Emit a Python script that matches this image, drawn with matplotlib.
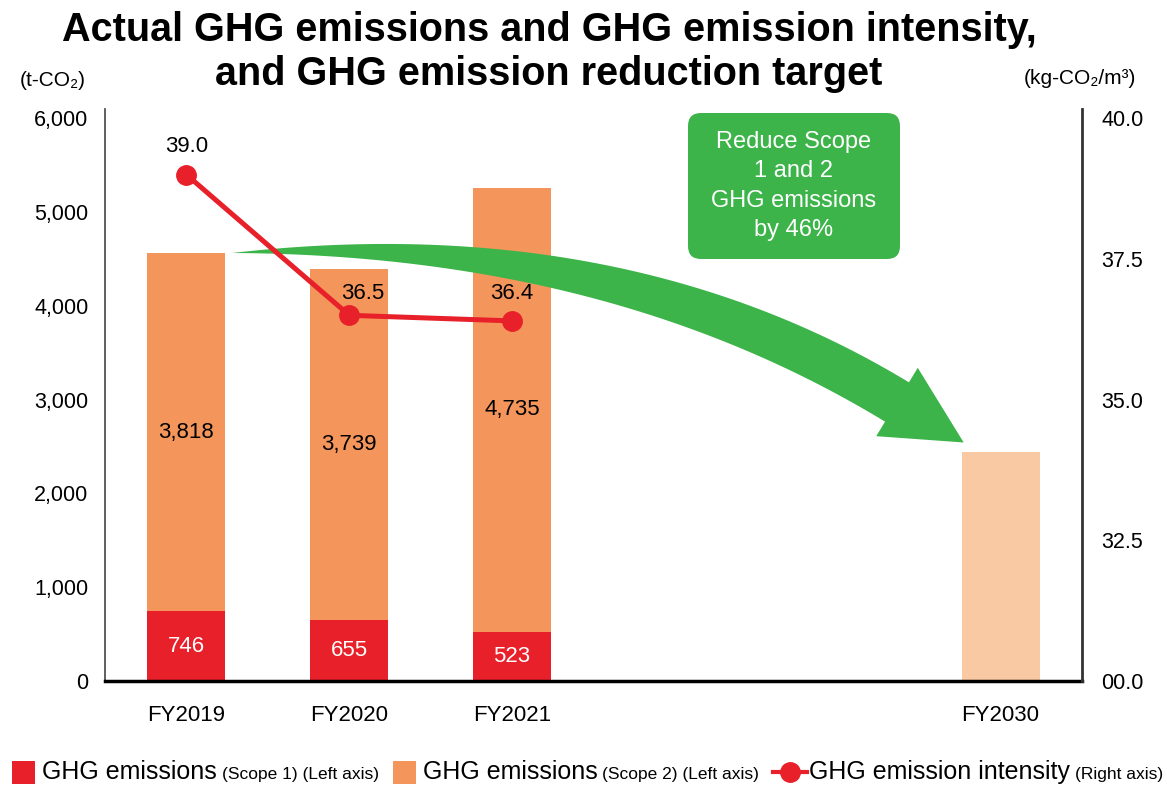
import matplotlib
matplotlib.use("Agg")
import matplotlib.pyplot as plt
import numpy as np
from matplotlib.patches import Rectangle, Polygon, FancyBboxPatch
from matplotlib.lines import Line2D

plt.rcParams['font.family'] = ['Liberation Sans', 'DejaVu Sans']

# ---------------- data ----------------
categories = ["FY2019", "FY2020", "FY2021", "", "", "FY2030"]
actual_years = ["FY2019", "FY2020", "FY2021"]
scope1 = [746, 655, 523]
scope2 = [3818, 3739, 4735]
intensity = [39.0, 36.5, 36.4]
target_year = "FY2030"
target_total = 2440

left_ticks = [0, 1000, 2000, 3000, 4000, 5000, 6000]
right_ticks = [30.0, 32.5, 35.0, 37.5, 40.0]
right_tick_labels = ["00.0", "32.5", "35.0", "37.5", "40.0"]

RED = "#e8202a"
ORANGE = "#f4965b"
PEACH = "#f9c9a3"
GREEN = "#3cb44a"

W, H = 1167, 785
fig = plt.figure(figsize=(W / 100, H / 100), dpi=100)


def px(x, y):
    # pixel position (y down) -> inches for fig.dpi_scale_trans
    return x / 100, (H - y) / 100


ax = fig.add_axes([105 / W, 1 - 681 / H, (1082 - 105) / W, (681 - 109) / H])
ax2 = ax.twinx()

# ---------------- bars ----------------
x_all = np.arange(len(categories))
x_act = [categories.index(y) for y in actual_years]
x_tgt = categories.index(target_year)

b1 = ax.bar(x_act, scope1, width=0.48, color=RED, zorder=2)
b2 = ax.bar(x_act, scope2, bottom=scope1, width=0.48, color=ORANGE, zorder=2)
ax.bar([x_tgt], [target_total], width=0.48, color=PEACH, zorder=2)
ax.bar_label(b1, labels=[f"{v:,}" for v in scope1], label_type='center',
             color='white', fontsize=16)
ax.bar_label(b2, labels=[f"{v:,}" for v in scope2], label_type='center',
             color='black', fontsize=16)

ymax = 6100
ax.set_xlim(-0.5, len(categories) - 0.5)
ax.set_ylim(0, ymax)
ax.set_yticks(left_ticks, [f"{v:,}" for v in left_ticks])
ax.set_xticks(x_all, categories)
ax.tick_params(axis='y', length=0, labelsize=15.5, pad=12)
ax.tick_params(axis='x', length=0, labelsize=16, pad=17)

ax2.set_ylim(30, 30 + ymax / 600)
ax2.set_yticks(right_ticks, right_tick_labels)
ax2.tick_params(axis='y', length=0, labelsize=15.5, pad=14)

for s in ['top', 'right']:
    ax.spines[s].set_visible(False)
for s in ['top', 'left', 'bottom']:
    ax2.spines[s].set_visible(False)
ax.spines['left'].set_linewidth(1.2)
ax.spines['left'].set_color('#444444')
ax.spines['bottom'].set_linewidth(2.5)
ax.spines['bottom'].set_color('black')
ax2.spines['right'].set_linewidth(2)
ax2.spines['right'].set_color('#333333')

# ---------------- curved green arrow ----------------
P0 = np.array([232.0, 253.0])
C = np.array([617.0, 232.0])
P2 = np.array([897.0, 402.0])
t = np.linspace(0, 1, 80)[:, None]
center = (1 - t) ** 2 * P0 + 2 * (1 - t) * t * C + t ** 2 * P2
tang = 2 * (1 - t) * (C - P0) + 2 * t * (P2 - C)
tang = tang / np.linalg.norm(tang, axis=1, keepdims=True)
norm = np.column_stack([-tang[:, 1], tang[:, 0]])
w = 46 * (1 - (1 - t) ** 2)
side_a = center + norm * w / 2
side_b = center - norm * w / 2
t_end, n_end = tang[-1], norm[-1]
head = [P2 - n_end * 40, P2 + t_end * 78, P2 + n_end * 40]
pts = np.vstack([side_b, head, side_a[::-1]])
pts_in = np.array([px(x, y) for x, y in pts])
arrow = Polygon(pts_in, closed=True, transform=fig.dpi_scale_trans,
                facecolor=GREEN, edgecolor='none', zorder=2.5, clip_on=False)
ax.add_patch(arrow)

# ---------------- intensity line ----------------
ax2.plot(x_act, intensity, color=RED, lw=3.6, marker='o', ms=14, zorder=3)
label_offsets = [(0, 20), (10, 16), (0, 19.5)]
for xi, v, off in zip(x_act, intensity, label_offsets):
    ax2.annotate(f"{v:.1f}", (xi, v), xytext=off, textcoords='offset points',
                 ha='center', va='center', fontsize=16)

# ---------------- target box ----------------
box = FancyBboxPatch(px(688, 259), 2.12, 1.46,
                     boxstyle="round,pad=0,rounding_size=0.13",
                     transform=fig.dpi_scale_trans, facecolor=GREEN,
                     edgecolor='none', zorder=5)
fig.add_artist(box)
fig.text(794 / W, 1 - 186 / H, "Reduce Scope\n1 and 2\nGHG emissions\nby 46%",
         ha='center', va='center', color='white', fontsize=17,
         linespacing=1.42, zorder=6)

# ---------------- titles / units ----------------
fig.text(549 / W, 1 - 30 / H, "Actual GHG emissions and GHG emission intensity,",
         ha='center', va='center', fontsize=28.5, fontweight='bold')
fig.text(549 / W, 1 - 74 / H, "and GHG emission reduction target",
         ha='center', va='center', fontsize=28.5, fontweight='bold')
fig.text(53 / W, 1 - 80 / H, "(t-CO₂)", ha='center', va='center', fontsize=15)
fig.text(1080 / W, 1 - 78 / H, "(kg-CO₂/m³)", ha='center', va='center', fontsize=15)

# ---------------- legend (mixed font sizes) ----------------
renderer = fig.canvas.get_renderer()
base_y = 1 - 779 / H
legend_items = [
    ("box", RED, "GHG emissions", "(Scope 1) (Left axis)"),
    ("box", ORANGE, "GHG emissions", "(Scope 2) (Left axis)"),
    ("line", RED, "GHG emission intensity", "(Right axis)"),
]
cur = 12
for kind, col, main, note in legend_items:
    if kind == "box":
        fig.add_artist(Rectangle(px(cur, 784), 0.23, 0.23, transform=fig.dpi_scale_trans,
                                 facecolor=col, edgecolor='none'))
        cur += 30
    else:
        yl = (H - 772) / 100
        fig.add_artist(Line2D([cur / 100, (cur + 34) / 100], [yl, yl], color=col, lw=3,
                              transform=fig.dpi_scale_trans))
        fig.add_artist(Line2D([(cur + 17) / 100], [yl], color=col, marker='o', ms=14,
                              transform=fig.dpi_scale_trans))
        cur += 36
    t1 = fig.text(cur / W, base_y, main, fontsize=18, va='baseline', ha='left')
    cur = t1.get_window_extent(renderer).x1 + 5
    t2 = fig.text(cur / W, base_y, note, fontsize=12.5, va='baseline', ha='left')
    cur = t2.get_window_extent(renderer).x1 + 14

fig.savefig("out.png", dpi=100)
